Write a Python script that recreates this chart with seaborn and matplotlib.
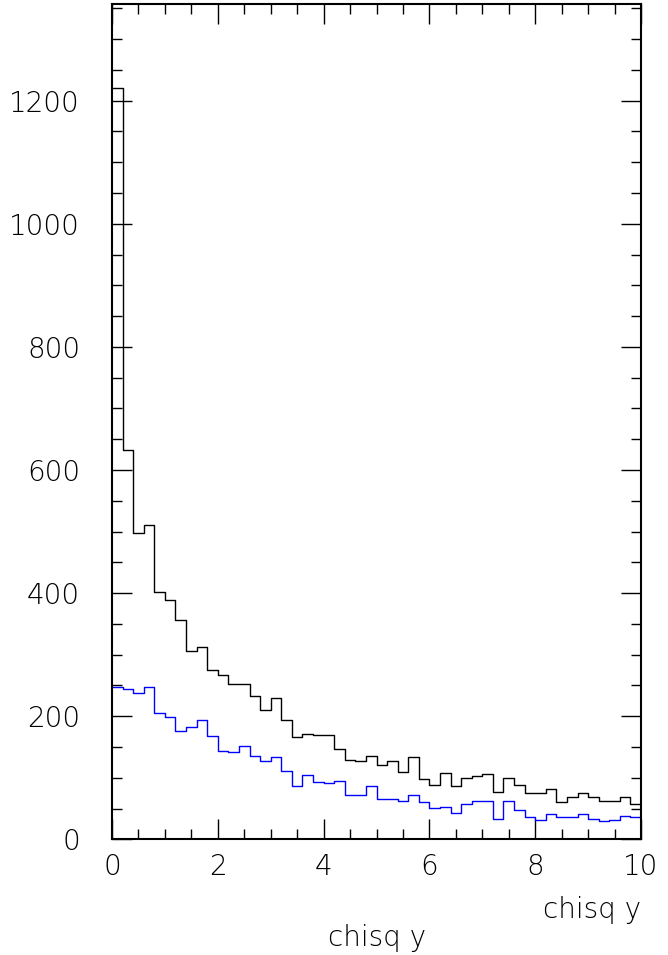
#chisq y histograms, two samples, step outlines on a PAW-like frame
import numpy as np
import pandas as pd
import matplotlib
matplotlib.use('Agg')
import matplotlib.pyplot as plt
from matplotlib.ticker import MultipleLocator
import seaborn as sns

plt.rcParams['font.family'] = ['DejaVu Sans']

x_min, x_max, n_bins = 0, 10, 50
counts_all = [1220, 632, 498, 510, 402, 388, 357, 306, 312, 275,
              267, 252, 252, 232, 210, 230, 194, 166, 171, 169,
              169, 146, 129, 127, 136, 121, 127, 109, 134, 98,
              88, 108, 86, 99, 103, 106, 77, 100, 88, 76,
              76, 81, 61, 68, 76, 68, 62, 63, 68, 58]#black histogram
counts_sel = [248, 244, 237, 247, 205, 198, 176, 183, 193, 168,
              144, 142, 152, 135, 127, 134, 111, 86, 104, 93,
              91, 95, 72, 72, 86, 66, 66, 63, 72, 60,
              51, 53, 43, 57, 62, 62, 33, 62, 47, 36,
              32, 41, 36, 37, 41, 33, 30, 31, 38, 37]#blue histogram
x_label = 'chisq y'

edges = np.linspace(x_min, x_max, n_bins + 1)
centers = (edges[:-1] + edges[1:]) / 2
df = pd.DataFrame({'chisq': np.concatenate([centers, centers]),
                   'n': counts_all + counts_sel,
                   'sample': ['all'] * n_bins + ['sel'] * n_bins})

fig = plt.figure(figsize=(6.68, 9.55), dpi=100)
ax = fig.add_axes([112/668, 1 - 839.3/955, (641 - 112)/668, (839.3 - 4)/955])

sns.histplot(data=df, x='chisq', weights='n', hue='sample', bins=n_bins, binrange=(x_min, x_max),
             element='step', fill=False, palette={'all': 'black', 'sel': 'blue'}, linewidth=1,
             legend=False, ax=ax)

ax.set_xlim(x_min, x_max)
ax.set_ylim(0, 1357)
ax.xaxis.set_major_locator(MultipleLocator(2))
ax.xaxis.set_minor_locator(MultipleLocator(0.5))
ax.yaxis.set_major_locator(MultipleLocator(200))
ax.yaxis.set_minor_locator(MultipleLocator(50))
ax.tick_params(which='both', direction='in', top=True, right=True, width=1, color='black')
ax.tick_params(which='major', length=14.4)
ax.tick_params(which='minor', length=7.2)
ax.tick_params(axis='y', which='major', pad=23, labelsize=20)
ax.tick_params(axis='x', which='major', pad=10, labelsize=20)
for lab in ax.get_xticklabels() + ax.get_yticklabels():
	lab.set_fontweight('light')
for s in ax.spines.values():
	s.set_linewidth(1.5)
ax.set_xlabel('')
ax.set_ylabel('')

fig.text(641/668, 1 - 910/955, x_label, ha='right', va='center', fontsize=20, fontweight='light')
fig.text(376.5/668, 1 - 938/955, x_label, ha='center', va='center', fontsize=20, fontweight='light')

fig.savefig('out.png', dpi=100)
